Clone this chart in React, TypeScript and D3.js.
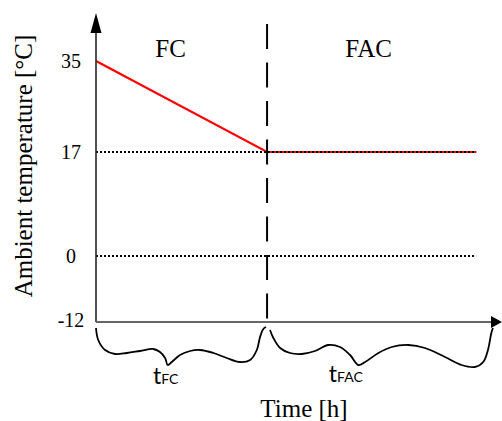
import React from "react";
import * as d3 from "d3";

// time axis has no numbers, so it runs on an abstract 0..100 scale
const phaseNames = ["FC", "FAC"];
const phaseBounds = [0, 43.2, 100];
const profileTime = [0, 43.2, 96];
const profileTemp = [35, 17, 17];
const refLevels = [17, 0];
const refEnd = 96;
const tempTicks = [-12, 0, 17, 35];

// hand-drawn braces under the time axis: [fraction of phase, depth below axis in px]
const braceFC: [number, number][] = [
  [0, 6], [0.013, 18], [0.053, 28], [0.111, 32], [0.18, 31], [0.257, 29],
  [0.335, 27], [0.374, 30], [0.404, 36], [0.419, 43], [0.443, 40], [0.491, 33],
  [0.55, 29], [0.608, 28], [0.686, 31], [0.764, 36], [0.842, 40], [0.901, 38],
  [0.94, 28], [0.959, 15], [0.978, 7], [0.994, 5],
];
const braceFAC: [number, number][] = [
  [0.013, 8], [0.028, 16], [0.058, 26], [0.102, 31], [0.154, 32], [0.213, 29],
  [0.272, 23], [0.324, 25], [0.369, 33], [0.406, 43], [0.436, 40], [0.495, 31],
  [0.554, 25], [0.628, 23], [0.702, 26], [0.791, 35], [0.865, 43], [0.924, 45],
  [0.961, 40], [0.982, 28], [0.997, 11], [1.004, 6],
];
const braces = [braceFC, braceFAC];
const braceLabelAt = [0.407, 0.35];

const W = 502;
const H = 421;
const serif = "'Liberation Serif', 'Times New Roman', serif";
const sans = "Lato, 'Open Sans', sans-serif";

export default function App() {
  const x = d3.scaleLinear().domain([0, 100]).range([96, 492]);
  // the drawing is schematic: tick spacing is not uniform
  const y = d3.scaleLinear().domain(tempTicks).range([322, 256, 152, 61]);

  const x0 = x(0);
  const yBase = y(-12);
  const axisTipX = W;
  const axisTipY = 13;

  const profile = d3.line<number>()
    .x((_, i) => x(profileTime[i]))
    .y(d => y(d))(profileTemp);

  const bracePath = (pts: [number, number][], i: number) => {
    const a = x(phaseBounds[i]);
    const b = x(phaseBounds[i + 1]);
    return d3.line<[number, number]>()
      .x(d => a + d[0] * (b - a))
      .y(d => yBase + d[1])
      .curve(d3.curveCatmullRom.alpha(0.5))(pts);
  };

  const switchX = x(phaseBounds[1]);

  return (
    <svg width={W} height={H} style={{ position: "absolute", left: 0, top: 0, background: "#fff" }}>
      {/* temperature profile */}
      <path d={profile ?? ""} fill="none" stroke="#ff0000" strokeWidth={2.2} />

      {/* reference levels, dotted over the profile */}
      {refLevels.map(v => (
        <line key={v} x1={x0} x2={x(refEnd)} y1={y(v)} y2={y(v)}
          stroke="#000" strokeWidth={1.8} strokeDasharray="2,2" />
      ))}

      {/* phase boundary */}
      <line x1={switchX} x2={switchX} y1={24} y2={yBase}
        stroke="#000" strokeWidth={2} strokeDasharray="25,13.5" />

      {/* axes */}
      <line x1={x0} x2={x0} y1={yBase} y2={axisTipY + 18} stroke="#333" strokeWidth={1.7} />
      <path d={`M${x0},${axisTipY}L${x0 - 5.5},${axisTipY + 20}L${x0 + 5.5},${axisTipY + 20}Z`} fill="#000" />
      <line x1={x0} x2={axisTipX - 8} y1={yBase} y2={yBase} stroke="#666" strokeWidth={2.2} />
      <path d={`M${axisTipX},${yBase}L${axisTipX - 11},${yBase - 6}L${axisTipX - 11},${yBase + 6}Z`} fill="#000" />

      {/* tick labels */}
      {tempTicks.map(v => (
        <text key={v} x={71} y={y(v) + (v === -12 ? 5 : 7)} textAnchor="middle"
          fontFamily={serif} fontSize={20} fill="#000">{v}</text>
      ))}

      {/* phase names */}
      {phaseNames.map((n, i) => (
        <text key={n} x={(x(phaseBounds[i]) + x(phaseBounds[i + 1])) / 2 - 11} y={57}
          textAnchor="middle" fontFamily={serif} fontSize={25} fill="#000">{n}</text>
      ))}

      {/* braces and durations */}
      {braces.map((b, i) => {
        const a = x(phaseBounds[i]);
        const e = x(phaseBounds[i + 1]);
        const cx = a + braceLabelAt[i] * (e - a);
        return (
          <g key={i}>
            <path d={bracePath(b, i) ?? ""} fill="none" stroke="#000" strokeWidth={1.8} />
            <text x={cx} y={yBase + 62 - i * 2} textAnchor="middle" fontFamily={sans} fill="#000">
              <tspan fontSize={23}>t</tspan>
              <tspan fontSize={14}>{phaseNames[i]}</tspan>
            </text>
          </g>
        );
      })}

      {/* axis titles */}
      <text x={304} y={417} textAnchor="middle" fontFamily={serif} fontSize={25} fill="#000">Time [h]</text>
      <text transform="translate(32,166) rotate(-90)" textAnchor="middle" fontFamily={serif}
        fontSize={25} fill="#000">Ambient temperature [°C]</text>
    </svg>
  );
}
